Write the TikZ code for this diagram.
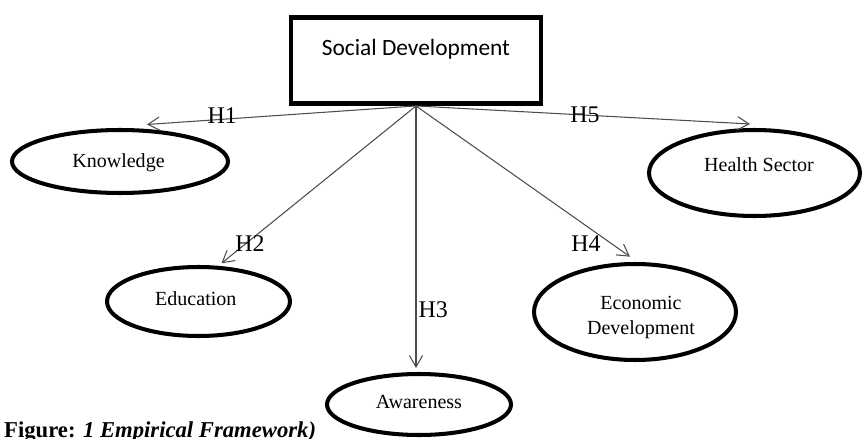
\documentclass[tikz,border=0pt]{standalone}
\usepackage{fontspec}
\setmainfont{Liberation Serif}
\newfontfamily\calibri{Carlito}
\usetikzlibrary{arrows.meta,shapes.geometric}
\tikzset{
	oval/.style={draw,ellipse,line width=2.3pt,inner sep=0pt},
	ovaltext/.style={font=\fontsize{11.4}{14.2}\selectfont,align=center},
	hyp/.style={font=\fontsize{13.6}{16}\selectfont,inner sep=0pt},
	link/.style={draw=black!70,line width=0.6pt,-{Straight Barb[length=6.5pt,width=7.5pt]}}
}
\begin{document}
\begin{tikzpicture}[x=0.02cm,y=-0.02cm]
			\useasboundingbox (0,0) rectangle (862,439);
			\clip (0,0) rectangle (862,439);
			% main construct
			\node[draw,line width=2.8pt,inner sep=0pt,minimum width=5cm,text height=0.77cm,text depth=0.95cm,font=\calibri\fontsize{13.3}{16}\selectfont] (social) at (416,60.5) {Social Development};
			% the five dimensions
			\node[oval,minimum width=4.32cm,minimum height=1.26cm,label={[ovaltext,shift={(-1.5,1)}]center:Knowledge}] (know) at (120,161.5) {};
			\node[oval,minimum width=3.66cm,minimum height=1.38cm,label={[ovaltext,shift={(-2.7,-2.4)}]center:Education}] (edu) at (198.5,301.5) {};
			\node[oval,minimum width=3.68cm,minimum height=1.22cm,label={[ovaltext,shift={(0,-2.9)}]center:Awareness}] (aware) at (419,404.5) {};
			\node[oval,minimum width=4.04cm,minimum height=1.92cm,label={[ovaltext,shift={(6,5.9)}]center:Economic\\Development}] (econ) at (635,312) {};
			\node[oval,minimum width=4.22cm,minimum height=1.72cm,label={[ovaltext,shift={(4.5,-8.2)}]center:Health Sector}] (health) at (754.5,173) {};
			% hypotheses
			\draw[link] (social.south) -- ([shift={(27,-3.5)}]know.north) node[hyp,pos=0.72,yshift=0.066cm]{H1};
			\draw[link] (social.south) -- ([shift={(23,-1.7)}]edu.north) node[hyp,pos=0.877,xshift=0.09cm]{H2};
			\draw[link] (social.south) -- ([shift={(-3,-4)}]aware.north) node[hyp,pos=0.778,right,xshift=0.04cm]{H3};
			\draw[link] (social.south) -- ([shift={(-5,-5.3)}]econ.north) node[hyp,pos=0.916,xshift=-0.52cm]{H4};
			\draw[link] (social.south) -- ([shift={(-4.5,-4)}]health.north) node[hyp,pos=0.506]{H5};
			\node[anchor=base west,font=\fontsize{12.9}{15}\selectfont\bfseries] (caption) at (-2,437.5) {Figure: \textit{1 Empirical Framework)}};
		\end{tikzpicture}
\end{document}
